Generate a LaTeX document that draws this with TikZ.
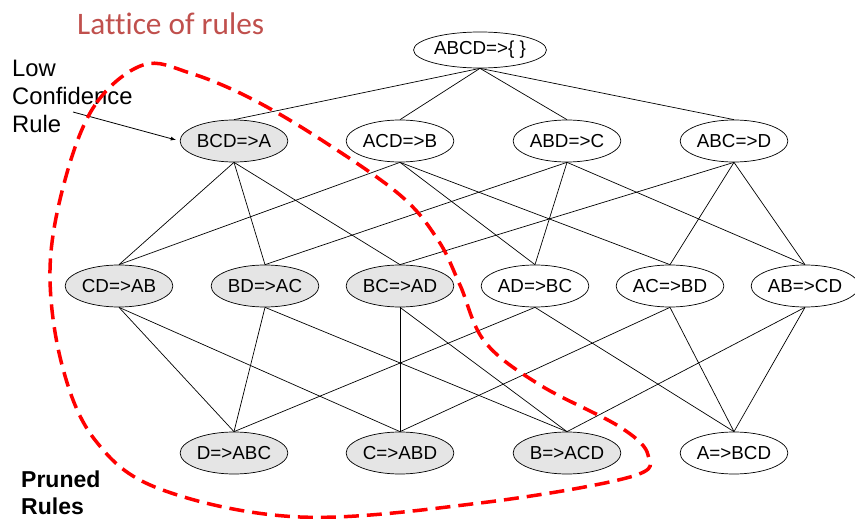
\documentclass[tikz,border=0pt]{standalone}
\usepackage{fontspec}
\setmainfont{Liberation Sans}
\newfontfamily\titlefont[Ligatures=NoCommon]{Carlito}
\usetikzlibrary{shapes.geometric}
\definecolor{titlered}{RGB}{192,80,77}
\definecolor{prunedred}{RGB}{255,0,0}
\tikzset{
  rulenode/.style={ellipse, draw, line width=0.7pt, minimum width=105pt, minimum height=42pt, inner sep=1pt, font=\fontsize{18.8}{22}\selectfont},
  prunednode/.style={rulenode, fill=black!10},
  link/.style={line width=0.7pt},
  prunedline/.style={draw=prunedred, line width=3.5pt, dash pattern=on 15pt off 8pt}
}
\begin{document}
\begin{tikzpicture}[x=1pt, y=-1pt]
\useasboundingbox (0,0) rectangle (855,519);
%title
\node[anchor=base west, inner sep=0, text=titlered, font=\titlefont\fontsize{31.3}{36}\selectfont] (title) at (77,35) {Lattice of rules};
%top of the lattice
\node[rulenode, minimum width=120pt, minimum height=36pt] (all) at (480,50) {ABCD=>\{\ \}};
%one item on the right
\node[prunednode] (bcdA) at (234,141) {BCD=>A};
\node[rulenode] (acdB) at (400,141) {ACD=>B};
\node[rulenode] (abdC) at (567,141) {ABD=>C};
\node[rulenode] (abcD) at (734,141) {ABC=>D};
%two items on the right
\node[prunednode] (cdAB) at (119,286) {CD=>AB};
\node[prunednode] (bdAC) at (265,286) {BD=>AC};
\node[prunednode] (bcAD) at (400,286) {BC=>AD};
\node[rulenode] (adBC) at (535,286) {AD=>BC};
\node[rulenode] (acBD) at (670,286) {AC=>BD};
\node[rulenode] (abCD) at (805,286) {AB=>CD};
%three items on the right
\node[prunednode] (dABC) at (234,453) {D=>ABC};
\node[prunednode] (cABD) at (400,453) {C=>ABD};
\node[prunednode] (bACD) at (567,453) {B=>ACD};
\node[rulenode] (aBCD) at (734,453) {A=>BCD};
%edges of the lattice
\foreach \u/\v in {all/bcdA, all/acdB, all/abdC, all/abcD,
  bcdA/cdAB, bcdA/bdAC, bcdA/bcAD, acdB/cdAB, acdB/adBC, acdB/acBD,
  abdC/bdAC, abdC/adBC, abdC/abCD, abcD/bcAD, abcD/acBD, abcD/abCD,
  cdAB/dABC, cdAB/cABD, bdAC/dABC, bdAC/bACD, bcAD/cABD, bcAD/bACD,
  adBC/dABC, adBC/aBCD, acBD/cABD, acBD/aBCD, abCD/bACD, abCD/aBCD}{
  \draw[link] (\u.south) -- (\v.north);
}
%labels
\node[anchor=north west, inner sep=0, align=left, font=\fontsize{23.8}{28}\selectfont] (lowconf) at (12,60) {Low\\Confidence\\Rule};
\coordinate (lowtail) at (73,112);
\draw[-latex, line width=0.8pt, shorten >=4pt] (lowtail) -- (bcdA.west);
\node[anchor=north west, inner sep=0, align=left, font=\bfseries\fontsize{23}{27}\selectfont] (prunedlabel) at (21,471) {Pruned\\Rules};
%pruned region
\draw[prunedline] plot[smooth cycle, tension=0.6] coordinates {
  (143,65) (95,105) (65,180) (50,270) (62,365) (95,440) (160,489)
  (300,517) (480,503) (630,477) (648,455) (620,427) (540,385)
  (485,342) (460,285) (438,240) (400,195) (320,139) (250,98) (190,73)};
\end{tikzpicture}
\end{document}
